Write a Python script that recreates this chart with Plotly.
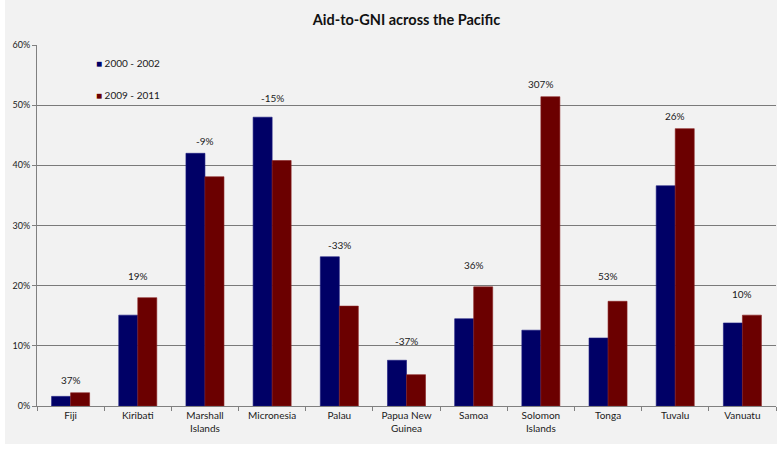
import plotly.graph_objects as go

countries = ["Fiji", "Kiribati", "Marshall<br>Islands", "Micronesia", "Palau",
             "Papua New<br>Guinea", "Samoa", "Solomon<br>Islands", "Tonga",
             "Tuvalu", "Vanuatu"]
aid_2000_2002 = [1.6, 15.1, 42.0, 48.0, 24.8, 7.6, 14.5, 12.6, 11.3, 36.6, 13.8]
aid_2009_2011 = [2.2, 18.0, 38.1, 40.8, 16.6, 5.2, 19.8, 51.4, 17.4, 46.1, 15.1]
change_labels = ["37%", "19%", "-9%", "-15%", "-33%", "-37%", "36%", "307%",
                 "53%", "26%", "10%"]
# extra lift (px) of each change label above the taller bar of its group
label_lift = [5, 14, 4, 11, 4, 11, 14, 5, 17, 5, 13]
y_ticks = [0, 10, 20, 30, 40, 50, 60]

BLUE = "#000066"
RED = "#6b0000"
BG = "#f2f2f2"
FONT = "Lato"
TXT = "#1a1a1a"

W, H = 783, 449
ML, MR, MT, MB = 37, 7, 45, 43
pw = W - ML - MR
ph = H - MT - MB

fig = go.Figure()
fig.add_trace(go.Bar(x=countries, y=aid_2000_2002, name="2000 - 2002",
                     marker=dict(color=BLUE, line=dict(color="#1a1a80", width=0.6))))
fig.add_trace(go.Bar(x=countries, y=aid_2009_2011, name="2009 - 2011",
                     marker=dict(color=RED, line=dict(color="#8a2020", width=0.6))))

for c, a, b, lab, lift in zip(countries, aid_2000_2002, aid_2009_2011,
                              change_labels, label_lift):
    fig.add_annotation(x=c, y=max(a, b), text=lab, showarrow=False,
                       yanchor="bottom", yshift=lift,
                       font=dict(family=FONT, size=10, color=TXT))

# legend entries
for i, (name, col) in enumerate([("2000 - 2002", BLUE), ("2009 - 2011", RED)]):
    fig.add_annotation(xref="paper", yref="paper",
                       x=(94 - ML) / pw, y=(H - MB - (63 + 32 * i)) / ph,
                       xanchor="left", yanchor="middle", showarrow=False,
                       text=f"<span style='color:{col}'>■</span> {name}",
                       font=dict(family=FONT, size=10, color=TXT))

# grey chart panel
fig.add_shape(type="rect", xref="paper", yref="paper", layer="below",
              x0=(5 - ML) / pw, x1=(777 - ML) / pw,
              y0=(H - MB - 444) / ph, y1=(H - MB) / ph + MT / ph,
              fillcolor=BG, line=dict(width=0))

fig.update_layout(
    width=W, height=H,
    margin=dict(l=ML, r=MR, t=MT, b=MB),
    paper_bgcolor="white", plot_bgcolor=BG,
    barmode="group", bargap=0.434, bargroupgap=0,
    showlegend=False,
    title=dict(text="<b>Aid-to-GNI across the Pacific</b>", x=0.5, xref="paper",
               y=1 - 20 / H, yanchor="middle",
               font=dict(family=FONT, size=14.5, color="#111111")),
    font=dict(family=FONT),
)
fig.update_xaxes(showline=True, linecolor="#808080", linewidth=1,
                 ticks="outside", tickson="boundaries", ticklen=4,
                 tickcolor="#808080", showgrid=False,
                 tickfont=dict(family=FONT, size=10, color=TXT))
fig.update_yaxes(range=[0, 60], tickvals=y_ticks,
                 ticktext=[f"{v}%" for v in y_ticks],
                 showline=True, linecolor="#808080", linewidth=1,
                 ticks="outside", ticklen=4, tickcolor="#808080",
                 showgrid=True, gridcolor="#7a7a7a", gridwidth=1,
                 zeroline=False,
                 tickfont=dict(family=FONT, size=9, color=TXT))

fig.write_html("out.html")
